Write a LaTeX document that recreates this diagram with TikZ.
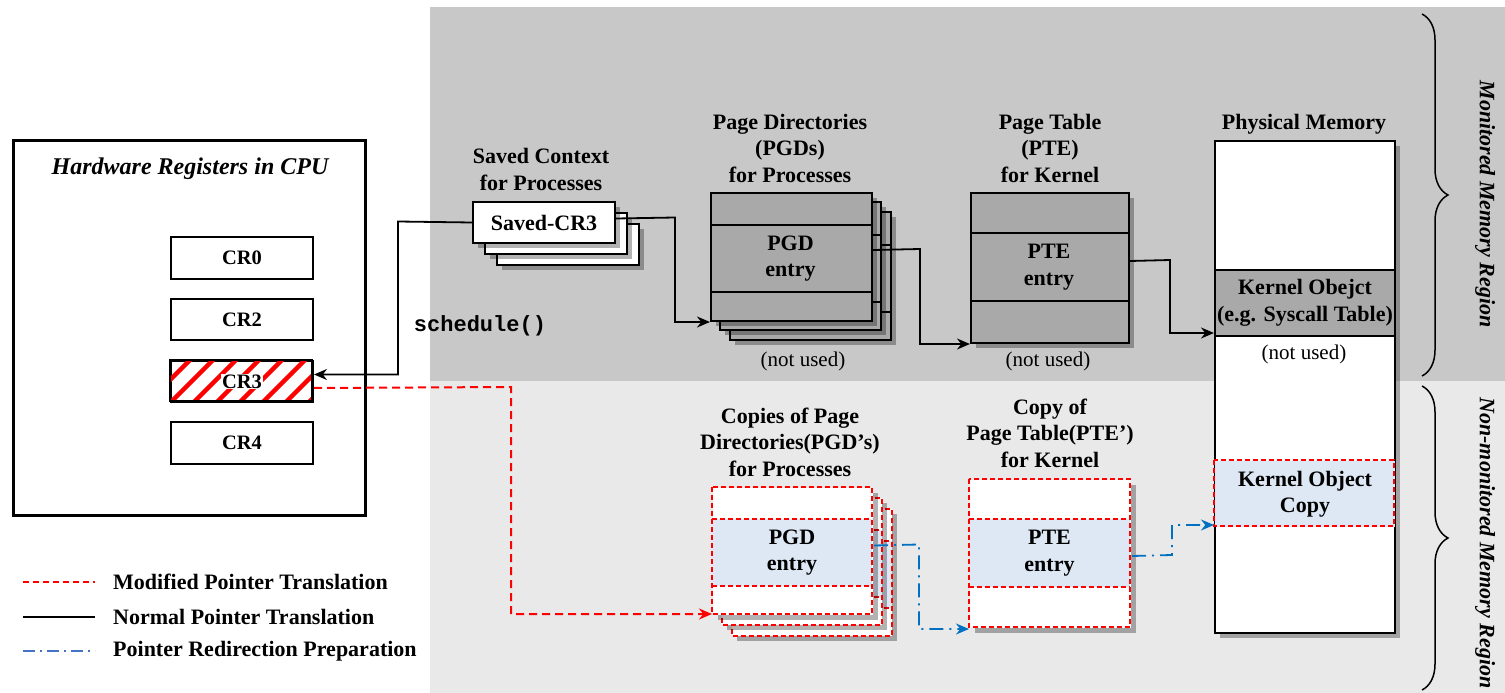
\documentclass[tikz,border=0pt]{standalone}
\usepackage{fontspec}
\setmainfont{Liberation Serif}
\setmonofont{Liberation Mono}
\usetikzlibrary{shadows,arrows.meta,decorations.pathreplacing,calc}
\definecolor{bgtop}{RGB}{200,200,200}
\definecolor{bgbot}{RGB}{233,233,233}
\definecolor{tabgray}{RGB}{169,169,169}
\definecolor{lblue}{RGB}{221,232,244}
\definecolor{arrblue}{RGB}{0,112,192}
\definecolor{legblue}{RGB}{68,114,196}
\definecolor{redd}{RGB}{255,0,0}
\begin{document}
\begin{tikzpicture}[x=1pt,y=-1pt,
  font=\fontsize{22}{26.5}\selectfont\bfseries,
  box/.style={draw,line width=2pt,inner sep=0pt,align=center,anchor=north west},
  shd/.style={drop shadow={shadow xshift=5pt,shadow yshift=-5pt,opacity=.3,fill=black}},
  lbl/.style={align=center,inner sep=0pt},
  crl/.style={lbl,font=\fontsize{20.5}{24}\selectfont\bfseries},
  nu/.style={lbl,font=\fontsize{21}{24}\selectfont\mdseries},
  norm/.style={line width=1.8pt,-{Stealth[length=13pt,width=11pt]}},
  modi/.style={redd,line width=2pt,dash pattern=on 8pt off 5pt,-{Stealth[length=13pt,width=11pt]}},
  prep/.style={arrblue,line width=1.8pt,dash pattern=on 14pt off 6pt on 2pt off 6pt,-{Stealth[length=13pt,width=11pt]}},
  rdash/.style={draw=redd,line width=2pt,dash pattern=on 5pt off 3pt},
  brc/.style={line width=1.5pt,decorate,decoration={brace,amplitude=26pt}}
]
\useasboundingbox (0,0) rectangle (1505,693);
% backgrounds
\fill[bgtop] (430,7) rectangle (1505,381);
\fill[bgbot] (430,381) rectangle (1505,693);

% CPU
\node[box,line width=2.6pt,minimum width=352pt,minimum height=375pt] (cpu) at (12,139) {};
\node[lbl,font=\fontsize{24}{26}\selectfont\bfseries\itshape] (cputitle) at (190,169) {Hardware Registers in CPU};
\node[box,fill=white,minimum width=142pt,minimum height=42pt] (cr0) at (170,236) {};
\node[crl] (cr0t) at (cr0.center) {CR0};
\node[box,fill=white,minimum width=142pt,minimum height=41pt] (cr2) at (170,298) {};
\node[crl] (cr2t) at (cr2.center) {CR2};
\node[box,fill=white,minimum width=142pt,minimum height=41pt] (cr3) at (170,360) {};
\begin{scope}
\clip (170,360) rectangle (312,401);
\foreach \i in {0,...,9} \draw[redd,line width=4.5pt] (130+\i*23,420) -- ++(70,-70);
\end{scope}
\draw[line width=2pt] (170,360) rectangle (312,401);
\node[crl,fill=white,inner sep=1pt] (cr3t) at (cr3.center) {CR3};
\node[box,fill=white,minimum width=142pt,minimum height=42pt] (cr4) at (170,421) {};
\node[crl] (cr4t) at (cr4.center) {CR4};

% Saved context
\node[lbl] (savtitle) at (541,169.5) {Saved Context\\for Processes};
\node[box,fill=white,shd,minimum width=142pt,minimum height=41pt] (sav3) at (496,223) {};
\node[box,fill=white,shd,minimum width=142pt,minimum height=41pt] (sav2) at (484,212) {};
\node[box,fill=white,shd,minimum width=142pt,minimum height=41pt] (sav1) at (472,201) {};
\node[lbl] (sav1t) at (sav1.center) {Saved-CR3};
\node[lbl,font=\fontsize{22}{24}\selectfont\ttfamily\bfseries] (sched) at (480,326) {schedule()};

% PGDs
\node[lbl] (pgdtitle) at (790,148) {Page Directories\\(PGDs)\\for Processes};
\foreach \d in {20,10} {
  \draw[fill=tabgray,line width=2pt,shd] (710+\d,192+\d) rectangle ++(161,128);
  \draw[line width=2pt] (710+\d,225+\d) -- ++(161,0) (710+\d,292+\d) -- ++(161,0);
}
\node[box,fill=tabgray,shd,minimum width=161pt,minimum height=128pt] (pgd) at (710,192) {};
\draw[line width=2pt] (pgd.north west) ++(0,33) -- ++(161,0) (pgd.north west) ++(0,100) -- ++(161,0);
\node[lbl] (pgdt) at (790.5,258.5) {PGD\\entry};
\node[nu] (nu1) at (803,361) {(not used)};

% PTE
\node[lbl] (ptetitle) at (1050,148) {Page Table\\(PTE)\\for Kernel};
\node[box,fill=tabgray,shd,minimum width=158pt,minimum height=150pt] (pte) at (970,192) {};
\draw[line width=2pt] (970,233) -- ++(158,0) (970,301) -- ++(158,0);
\node[lbl] (ptet) at (1049,267) {PTE\\entry};
\node[nu] (nu2) at (1048,361) {(not used)};

% Physical memory
\node[lbl] (phystitle) at (1304,124) {Physical Memory};
\node[box,fill=white,shd,minimum width=180pt,minimum height=492pt] (phys) at (1214,140) {};
\node[box,fill=tabgray,minimum width=180pt,minimum height=66pt] (kobj) at (1214,269) {};
\node[lbl] (kobjt) at (kobj.center) {Kernel Obejct\\(e.g. Syscall Table)};
\node[nu] (nu3) at (1304,354) {(not used)};
\node[box,draw=none,fill=lblue,minimum width=180pt,minimum height=66pt] (kcopy) at (1214,460) {};
\draw[rdash] (1214,460) rectangle (1394,526);
\node[lbl] (kcopyt) at (kcopy.center) {Kernel Object\\Copy};

% PGD copies
\node[lbl] (pgdctitle) at (790,442) {Copies of Page\\Directories(PGD’s)\\for Processes};
\foreach \dx/\dy in {20/22,10/11} {
  \fill[white,shd] (712+\dx,487+\dy) rectangle ++(160,127);
  \fill[lblue] (712+\dx,519+\dy) rectangle ++(160,67);
  \draw[rdash] (712+\dx,487+\dy) rectangle ++(160,127);
  \draw[rdash] (712+\dx,519+\dy) -- ++(160,0) (712+\dx,586+\dy) -- ++(160,0);
}
\node[box,draw=none,fill=white,shd,minimum width=160pt,minimum height=127pt] (pgdc) at (712,487) {};
\fill[lblue] (712,519) rectangle (872,586);
\draw[rdash] (712,487) rectangle (872,614);
\draw[rdash] (712,519) -- (872,519) (712,586) -- (872,586);
\node[lbl] (pgdct) at (792,552.5) {PGD\\entry};

% PTE copy
\node[lbl] (ptectitle) at (1050,433) {Copy of\\Page Table(PTE’)\\for Kernel};
\node[box,draw=none,fill=white,shd,minimum width=161pt,minimum height=148pt] (ptec) at (969,479) {};
\fill[lblue] (969,519) rectangle (1130,587);
\draw[rdash] (969,479) rectangle (1130,627);
\draw[rdash] (969,519) -- (1130,519) (969,587) -- (1130,587);
\node[lbl] (ptect) at (1049.5,553) {PTE\\entry};

% connectors
\draw[norm] (sav1.west) -- (398,221.5) |- ([yshift=7pt]cr3.east);
\draw[norm] ([yshift=4pt]sav1.east) -- (675,217.5) |- (pgd.south west);
\draw[norm] ([yshift=7pt]pgd.east) -- (920,249) |- (pte.south west);
\draw[norm] ([yshift=7pt]pte.east) -- (1170,260) |- ([yshift=4pt]kobj.south west);
\draw[modi] ([yshift=-6.5pt]cr3.east) -- (511,387) |- ([yshift=2pt]pgdc.south west);
\draw[prep] ([yshift=6pt]pgdc.east) -- (919,544.5) |- (ptec.south west);
\draw[prep] ([yshift=-2pt]ptec.east) -- (1172,555) |- ([yshift=3pt]kcopy.south west);

% braces
\draw[brc] (1422,14) -- (1422,376) coordinate[midway] (b1);
\draw[brc] (1422,386) -- (1422,690) coordinate[midway] (b2);
\node[lbl,rotate=-90,font=\fontsize{22}{24}\selectfont\bfseries\itshape] (mon) at (1485,204) {Monitored Memory Region};
\node[lbl,rotate=-90,font=\fontsize{22}{24}\selectfont\bfseries\itshape] (nonmon) at (1485,543) {Non-monitored Memory Region};

% legend
\coordinate (l1a) at (23,582); \coordinate (l1b) at (95,582);
\coordinate (l2a) at (23,617); \coordinate (l2b) at (95,617);
\coordinate (l3a) at (23,651); \coordinate (l3b) at (95,651);
\draw[redd,line width=1.5pt,dash pattern=on 6pt off 4pt] (l1a) -- (l1b);
\draw[line width=1.5pt] (l2a) -- (l2b);
\draw[legblue,line width=1.5pt,dash pattern=on 12pt off 5pt on 2pt off 5pt] (l3a) -- (l3b);
\node[lbl,anchor=west] (lg1) at (113,582) {Modified Pointer Translation};
\node[lbl,anchor=west] (lg2) at (113,617) {Normal Pointer Translation};
\node[lbl,anchor=west] (lg3) at (113,651) {Pointer Redirection Preparation};
\end{tikzpicture}
\end{document}
